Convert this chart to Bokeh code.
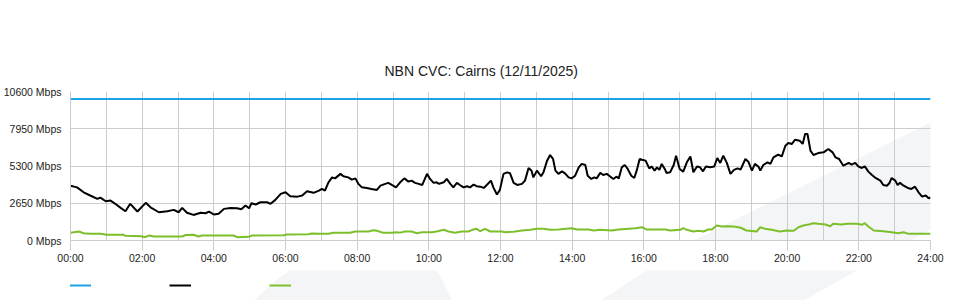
from bokeh.plotting import figure
from bokeh.layouts import column
from bokeh.models import (SingleIntervalTicker, FixedTicker, Legend, LegendItem,
                          Title, PolyAnnotation, Range1d)
from bokeh.embed import file_html
from bokeh.resources import INLINE

TITLE = "NBN CVC: Cairns (12/11/2025)"
Y_TICKS = [0, 2650, 5300, 7950, 10600]
Y_TICK_LABELS = ["0 Mbps", "2650 Mbps", "5300 Mbps", "7950 Mbps", "10600 Mbps"]
X_TICK_HOURS = list(range(0, 25, 2))
X_TICK_LABELS = ["00:00", "02:00", "04:00", "06:00", "08:00", "10:00", "12:00",
                 "14:00", "16:00", "18:00", "20:00", "22:00", "24:00"]

capacity_minutes = [0, 1440]
capacity_mbps = [10060, 10060]

traffic_minutes = [0, 11, 22, 33, 45, 50, 59, 67, 75, 84,
                   92, 100, 112, 126, 134, 148, 162, 173, 181, 187,
                   195, 206, 218, 226, 232, 240, 248, 257, 268, 279,
                   286, 293, 299, 303, 310, 318, 329, 335, 343, 352,
                   360, 368, 380, 388, 396, 407, 416, 421, 426, 432,
                   438, 443, 452, 457, 465, 471, 477, 482, 488, 496,
                   504, 513, 519, 527, 532, 538, 545, 552, 559, 566,
                   571, 577, 583, 589, 597, 602, 608, 613, 617, 625,
                   630, 636, 641, 647, 652, 658, 664, 669, 675, 680,
                   686, 692, 697, 704, 708, 714, 719, 725, 731, 736,
                   742, 748, 756, 761, 767, 772, 775, 781, 788, 792,
                   798, 803, 808, 812, 817, 823, 828, 834, 839, 845,
                   851, 856, 862, 866, 872, 877, 881, 887, 892, 898,
                   902, 909, 914, 918, 923, 928, 933, 939, 944, 948,
                   953, 957, 963, 969, 973, 978, 982, 986, 990, 995,
                   998, 1004, 1010, 1014, 1020, 1026, 1032, 1038, 1043, 1049,
                   1054, 1059, 1064, 1071, 1078, 1083, 1088, 1093, 1099, 1105,
                   1111, 1117, 1122, 1130, 1135, 1141, 1146, 1152, 1155, 1160,
                   1167, 1172, 1177, 1185, 1191, 1197, 1202, 1208, 1213, 1221,
                   1226, 1230, 1234, 1239, 1244, 1252, 1261, 1269, 1276, 1281,
                   1287, 1294, 1303, 1308, 1314, 1319, 1325, 1330, 1336, 1342,
                   1348, 1356, 1361, 1367, 1371, 1375, 1381, 1385, 1389, 1395,
                   1402, 1408, 1414, 1420, 1426, 1432, 1437, 1440]
traffic_mbps = [3900, 3780, 3430, 3200, 2960, 3050, 2790, 2840, 2610, 2320,
                2080, 2610, 2060, 2680, 2360, 2010, 2080, 2180, 2010, 2320,
                1970, 1820, 1970, 1940, 2060, 1850, 1900, 2250, 2320, 2290,
                2220, 2490, 2290, 2650, 2560, 2720, 2720, 2610, 2890, 3320,
                3430, 3150, 3120, 3200, 3500, 3390, 3550, 3670, 3550, 4140,
                4490, 4420, 4740, 4570, 4490, 4330, 4420, 4030, 3780, 3740,
                3670, 3600, 3900, 4030, 4100, 3950, 3780, 4140, 4420, 4190,
                4260, 4100, 4030, 3950, 4740, 4380, 4100, 4140, 4030, 4140,
                4380, 4030, 3780, 4100, 3950, 3780, 3860, 3780, 3980, 3860,
                3830, 3740, 3950, 4260, 3780, 3270, 3600, 4740, 4850, 4780,
                4100, 3950, 4030, 4260, 5160, 4970, 4490, 4970, 4570, 4850,
                5680, 6080, 5800, 4970, 4740, 4920, 4780, 4490, 4420, 4610,
                5200, 5450, 5370, 4610, 4380, 4490, 4420, 4810, 4660, 4740,
                4610, 4380, 4540, 4420, 5200, 5370, 5090, 4610, 4450, 4970,
                5800, 5750, 5680, 5130, 5270, 4970, 5200, 5020, 5450, 5090,
                4810, 4850, 5370, 6030, 5090, 4900, 5560, 5980, 4850, 5270,
                5210, 4920, 5270, 5210, 5270, 5870, 5520, 6030, 5520, 4740,
                5020, 5130, 5040, 5800, 5610, 4970, 5450, 5250, 4970, 5370,
                5560, 5450, 5910, 6110, 5980, 6740, 6940, 6870, 7170, 7100,
                6870, 7580, 7580, 6390, 6080, 6220, 6270, 6510, 6270, 5910,
                5800, 5320, 5520, 5400, 5520, 5270, 5160, 5270, 4900, 4660,
                4450, 4260, 3950, 3900, 4070, 4450, 4260, 3950, 4100, 3900,
                3740, 3670, 3830, 3430, 3120, 3200, 3000, 3070]

other_minutes = [0, 14, 22, 33, 50, 61, 89, 92, 119, 123,
                 133, 139, 187, 193, 206, 214, 220, 273, 279, 298,
                 304, 357, 362, 398, 404, 415, 432, 440, 468, 477,
                 499, 507, 513, 524, 538, 546, 552, 560, 571, 580,
                 588, 605, 613, 625, 633, 644, 655, 666, 673, 680,
                 686, 694, 703, 722, 728, 742, 756, 770, 781, 792,
                 803, 817, 839, 848, 867, 876, 887, 906, 918, 946,
                 957, 965, 996, 1004, 1021, 1026, 1032, 1043, 1051, 1060,
                 1067, 1074, 1082, 1091, 1099, 1110, 1121, 1132, 1149, 1155,
                 1163, 1174, 1188, 1199, 1211, 1219, 1227, 1236, 1244, 1252,
                 1264, 1272, 1277, 1291, 1300, 1317, 1325, 1330, 1336, 1345,
                 1361, 1375, 1386, 1395, 1403, 1440]
other_mbps = [550, 640, 520, 475, 475, 405, 405, 335, 305, 235,
              355, 285, 285, 390, 405, 285, 355, 355, 235, 260,
              355, 380, 425, 450, 500, 475, 480, 545, 545, 640,
              640, 730, 690, 545, 545, 590, 560, 640, 640, 520,
              590, 590, 640, 760, 640, 545, 640, 640, 760, 830,
              660, 830, 640, 640, 590, 620, 710, 760, 830, 830,
              760, 780, 875, 780, 780, 710, 760, 710, 780, 875,
              945, 780, 780, 710, 760, 875, 760, 640, 690, 640,
              780, 780, 1065, 995, 1015, 995, 925, 710, 640, 945,
              830, 760, 640, 710, 690, 945, 1065, 1135, 1230, 1185,
              1135, 1015, 1185, 1135, 1185, 1185, 1115, 1230, 995, 710,
              660, 590, 520, 590, 475, 475]

SERIES = [(capacity_minutes, capacity_mbps, "#1aa3e6"),
          (traffic_minutes, traffic_mbps, "#000000"),
          (other_minutes, other_mbps, "#7cbf2a")]
FONT = "Liberation Sans"
GRID = "#cccccc"
WM = "#f4f5f7"

W = 960
MAIN_H, LEG_H = 270, 30
L, R, T, B = 70, 30, 91, 30

hours = lambda m: [v / 60 for v in m]

# ---------------- main chart ----------------
p = figure(width=W, height=MAIN_H, output_backend="svg", toolbar_location=None,
           x_range=Range1d(0, 24), y_range=Range1d(0, 10600),
           min_border_left=L, min_border_right=R, min_border_top=T, min_border_bottom=B)
p.background_fill_color = None
p.border_fill_color = "white"
p.outline_line_color = None

# faint background watermark (page pixel coords -> frame-relative screen coords)
band = [(600, 300), (693, 240), (960, 107), (960, 212), (803, 300)]
arch = [(253, 300), (275, 280), (300, 263), (330, 251), (360, 244), (395, 241),
        (415, 241), (425, 252), (440, 276), (452, 300)]
fb = MAIN_H - B
p.add_layout(PolyAnnotation(xs=[x - L for x, y in band], ys=[fb - y for x, y in band],
                            xs_units="screen", ys_units="screen",
                            fill_color=WM, fill_alpha=1, line_color=None, level="image"))

for m, v, c in SERIES:
    p.line(hours(m), v, line_color=c, line_width=2)

p.xaxis.ticker = SingleIntervalTicker(interval=2, num_minor_ticks=2)
p.xaxis.major_label_overrides = dict(zip(X_TICK_HOURS, X_TICK_LABELS))
p.yaxis.ticker = FixedTicker(ticks=Y_TICKS)
p.yaxis.major_label_overrides = dict(zip(Y_TICKS, Y_TICK_LABELS))

for ax in (p.xaxis[0], p.yaxis[0]):
    ax.axis_line_color = GRID
    ax.major_tick_line_color = GRID
    ax.minor_tick_line_color = None
    ax.major_label_text_font = FONT
    ax.major_label_text_font_size = "10.5px"
    ax.major_label_text_color = "#222222"
p.xaxis.major_tick_in = 0
p.xaxis.major_tick_out = 10
p.xaxis.major_label_standoff = 1
p.yaxis.major_tick_in = 0
p.yaxis.major_tick_out = 0
p.yaxis.major_label_standoff = 9
p.yaxis.major_label_text_baseline = "alphabetic"

p.xgrid.grid_line_color = GRID
p.xgrid.minor_grid_line_color = GRID
p.ygrid.grid_line_color = GRID

p.title = Title(text=TITLE, align="left", offset=314, standoff=26,
                text_font=FONT, text_font_size="14px", text_font_style="normal",
                text_color="#222222")

# ---------------- legend strip (swatches only, no text) ----------------
# the column aligns this strip's frame with the chart frame (x = 70 .. 930)
# proxy renderers use the same series data, but the strip's ranges keep them out of view
leg = figure(width=W, height=LEG_H, output_backend="svg", toolbar_location=None,
             x_axis_location=None, y_axis_location=None,
             x_range=Range1d(0, 24), y_range=Range1d(-20000, -10000),
             min_border_left=0, min_border_right=0, min_border_top=0, min_border_bottom=0)
leg.grid.visible = False
leg.outline_line_color = None
leg.background_fill_color = None
leg.border_fill_color = "white"
for shape in (band, arch):
    leg.add_layout(PolyAnnotation(xs=[x - L for x, y in shape], ys=[300 - y for x, y in shape],
                                  xs_units="screen", ys_units="screen",
                                  fill_color=WM, fill_alpha=1, line_color=None, level="image"))
proxies = [leg.line(hours(m), v, line_color=c, line_width=2) for m, v, c in SERIES]
legend = Legend(items=[LegendItem(label=" ", renderers=[r]) for r in proxies],
                location=(-1, 5), orientation="horizontal", glyph_width=22, glyph_height=20,
                label_standoff=0, label_width=78, label_height=20, spacing=0, padding=0,
                margin=0, border_line_color=None, background_fill_alpha=0,
                label_text_font_size="10px")
leg.add_layout(legend, "center")

page = column(p, leg, spacing=0)
open("out.html", "w").write(file_html(page, INLINE))
